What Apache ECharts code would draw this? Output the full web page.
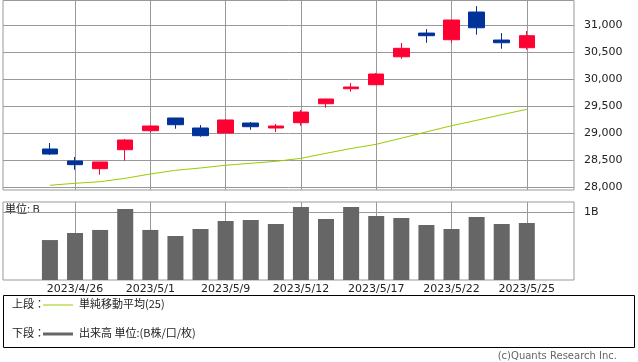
<!DOCTYPE html>
<html>
<head>
<meta charset="utf-8">
<script src="https://cdn.jsdelivr.net/npm/echarts@6/dist/echarts.min.js"></script>
<style>
html,body{margin:0;padding:0;background:#fff;}
#chart{width:638px;height:362px;}
</style>
</head>
<body>
<div id="chart"></div>
<script>
// ---- data ----
const dates = ['2023/4/25','2023/4/26','2023/4/27','2023/4/28','2023/5/1','2023/5/2','2023/5/8','2023/5/9','2023/5/10','2023/5/11','2023/5/12','2023/5/15','2023/5/16','2023/5/17','2023/5/18','2023/5/19','2023/5/22','2023/5/23','2023/5/24','2023/5/25'];
const openVals  = [28708,28486,28344,28695,29046,29281,29096,29003,29188,29096,29194,29545,29822,29896,30413,30851,30728,31240,30722,30580];
const closeVals = [28615,28418,28468,28874,29133,29157,28954,29244,29120,29133,29391,29632,29854,30094,30569,30802,31092,30949,30672,30802];
const lowVals   = [28597,28325,28233,28492,29009,29083,28935,29003,29064,29022,29138,29471,29767,29896,30376,30672,30672,30820,30561,30543];
const highVals  = [28819,28560,28468,28893,29151,29281,29151,29262,29207,29170,29428,29632,29927,30112,30667,30925,31092,31350,30851,30888];
const ma25      = [28037,28074,28103,28166,28246,28314,28357,28407,28444,28480,28536,28628,28717,28795,28907,29024,29138,29238,29342,29441];
const volume    = [0.59,0.694,0.739,1.049,0.739,0.65,0.753,0.871,0.886,0.827,1.078,0.901,1.078,0.945,0.916,0.812,0.753,0.930,0.827,0.842];
const xTickIdx  = [1,4,7,10,13,16,19];
const priceTicks = [28000,28500,29000,29500,30000,30500,31000];
const volTicks  = [1];

const candle = dates.map((d,i)=>[i, openVals[i], closeVals[i], lowVals[i], highVals[i]]);
const maData = dates.map((d,i)=>[i, ma25[i]]);
const volData = dates.map((d,i)=>[i, volume[i]]);

const font = 'DejaVu Sans';
const jp = '"Noto Sans CJK JP"';
const gridColor = '#999999';

const chart = echarts.init(document.getElementById('chart'), null, {renderer:'canvas'});
const xCommon = {
  type:'value', min:-1.87, max:20.88,
  axisLine:{show:false},
  axisTick:{show:false, customValues:xTickIdx},
  splitLine:{show:true, lineStyle:{color:gridColor, width:1}}
};
chart.setOption({
  animation:false,
  backgroundColor:'#fff',
  grid:[
    {left:3, right:64, top:0.5, height:189.5, show:true, borderColor:gridColor, borderWidth:1, backgroundColor:'transparent'},
    {left:3, right:64, top:202, height:78, show:true, borderColor:gridColor, borderWidth:1, backgroundColor:'transparent'}
  ],
  xAxis:[
    Object.assign({gridIndex:0, axisLabel:{show:false, customValues:xTickIdx}}, xCommon),
    Object.assign({gridIndex:1, axisLabel:{show:true, customValues:xTickIdx, color:'#222', fontFamily:font, fontSize:11, margin:4,
      formatter:v=>dates[Math.round(v)] || ''}}, xCommon)
  ],
  yAxis:[
    {gridIndex:0, type:'value', position:'right', min:27950, max:31453,
     axisLine:{show:false},
     axisTick:{show:true, inside:false, length:6, customValues:priceTicks, lineStyle:{color:gridColor}},
     axisLabel:{show:true, customValues:priceTicks, color:'#222', fontFamily:font, fontSize:11, margin:10,
       formatter:v=>v.toLocaleString('en-US')},
     splitLine:{show:true, lineStyle:{color:gridColor, width:1}}},
    {gridIndex:1, type:'value', position:'right', min:0, max:1.152,
     axisLine:{show:false},
     axisTick:{show:true, inside:false, length:6, customValues:volTicks, lineStyle:{color:gridColor}},
     axisLabel:{show:true, customValues:volTicks, color:'#222', fontFamily:font, fontSize:11, margin:10,
       formatter:v=>v+'B'},
     splitLine:{show:true, lineStyle:{color:gridColor, width:1}}}
  ],
  series:[
    {type:'candlestick', xAxisIndex:0, yAxisIndex:0, data:candle, barWidth:16,
     encode:{x:0, y:[1,2,3,4]},
     itemStyle:{color:'#ff0033', color0:'#003399', borderColor:'#ff0033', borderColor0:'#003399', borderWidth:1}},
    {type:'line', xAxisIndex:0, yAxisIndex:0, data:maData, symbol:'none', smooth:false,
     lineStyle:{color:'#99cc00', width:1}},
    {type:'bar', xAxisIndex:1, yAxisIndex:1, data:volData, barWidth:16, itemStyle:{color:'#666666'}}
  ],
  graphic:[
    {type:'text', left:5, top:203, style:{text:'単位: B', font:'11px '+jp, fill:'#222'}},
    {type:'rect', shape:{x:3.5, y:295.5, width:631, height:52}, style:{fill:'none', stroke:'#000', lineWidth:1}},
    {type:'text', left:12, top:298, style:{text:'上段：', font:'11px '+jp, fill:'#222'}},
    {type:'line', shape:{x1:43, y1:305, x2:73, y2:305}, style:{stroke:'#99cc00', lineWidth:1}},
    {type:'text', left:79, top:298, style:{text:'単純移動平均(25)', font:'11px '+jp, fill:'#222'}},
    {type:'text', left:12, top:327, style:{text:'下段：', font:'11px '+jp, fill:'#222'}},
    {type:'line', shape:{x1:43, y1:334, x2:73, y2:334}, style:{stroke:'#666666', lineWidth:3}},
    {type:'text', left:79, top:327, style:{text:'出来高 単位:(B株/口/枚)', font:'11px '+jp, fill:'#222'}},
    {type:'text', right:21, top:351, style:{text:'(c)Quants Research Inc.', font:'10px '+font, fill:'#666'}}
  ]
});
</script>
</body>
</html>
